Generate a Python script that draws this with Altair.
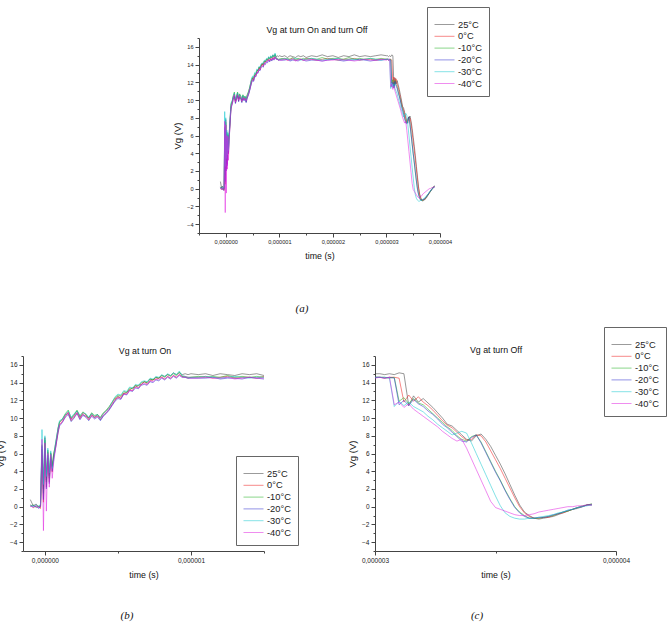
import altair as alt
import pandas as pd

W, H = 670, 635
FONT = "Liberation Sans"

SERIES = ["25°C", "0°C", "-10°C", "-20°C", "-30°C", "-40°C"]
COLORS = ["#3a3a3a", "#f01818", "#19b019", "#2a2ad0", "#10c8d0", "#e01ee0"]

# sample times in microseconds
ON_T = [-0.10, -0.08, -0.06, -0.04, -0.03, -0.02, -0.01, 0.00, 0.01, 0.02,
        0.03, 0.04, 0.05, 0.06, 0.07, 0.08, 0.09, 0.10, 0.12, 0.14,
        0.16, 0.18, 0.20, 0.22, 0.24, 0.26, 0.28, 0.30, 0.32, 0.34,
        0.36, 0.38, 0.40, 0.42, 0.44, 0.46, 0.48, 0.50, 0.52, 0.54,
        0.56, 0.58, 0.60, 0.62, 0.64, 0.66, 0.68, 0.70, 0.72, 0.74,
        0.76, 0.78, 0.80, 0.82, 0.84, 0.86, 0.88, 0.90, 0.92, 0.94,
        0.96, 0.98, 1.00]
PLATEAU_T = [1.05, 1.10, 1.15, 1.20, 1.25, 1.30, 1.35, 1.40, 1.45, 1.50,
             1.60, 1.70, 1.80, 1.90, 2.00, 2.10, 2.20, 2.30, 2.40, 2.50,
             2.60, 2.70, 2.80, 2.90, 3.00]
OFF_T = [3.02, 3.04, 3.06, 3.08, 3.10, 3.12, 3.14, 3.16, 3.18, 3.20,
         3.22, 3.24, 3.26, 3.28, 3.30, 3.32, 3.34, 3.36, 3.38, 3.40,
         3.42, 3.44, 3.46, 3.48, 3.50, 3.52, 3.54, 3.56, 3.58, 3.60,
         3.62, 3.64, 3.66, 3.68, 3.70, 3.72, 3.74, 3.76, 3.78, 3.80,
         3.82, 3.84, 3.86, 3.88, 3.90]

# gate voltage (V) at turn-on
ON_25 = [0.8, 0.1, 0.3, -0.1, 0.2, 6.5, 2.0, 7.8, 3.0, 5.5,
         3.5, 6.0, 4.5, 5.9, 6.8, 7.8, 8.9, 9.5, 9.8, 10.4,
         10.5, 9.9, 10.3, 10.8, 10.1, 10.4, 10.2, 10.0, 10.5, 10.0,
         10.4, 9.8, 10.3, 10.6, 11.0, 11.5, 12.0, 12.5, 12.2, 12.8,
         12.9, 13.2, 13.4, 13.5, 13.7, 13.8, 14.1, 14.0, 14.4, 14.3,
         14.6, 14.5, 14.8, 14.7, 14.9, 14.8, 15.1, 14.9, 15.1, 14.9,
         15.0, 14.9, 15.0]
ON_0 = [0.2, -0.1, 0.1, 0.0, -0.2, 5.8, 0.5, 7.2, 2.2, 6.2,
        2.8, 5.6, 3.9, 5.6, 6.4, 7.4, 8.4, 9.3, 9.6, 10.2,
        10.7, 9.7, 10.1, 10.6, 9.9, 10.6, 10.4, 9.8, 10.3, 10.2,
        10.2, 10.0, 10.5, 10.8, 11.2, 11.7, 12.2, 12.3, 12.4, 12.8,
        12.7, 13.2, 13.1, 13.7, 13.4, 13.8, 14.1, 13.8, 14.2, 14.3,
        14.4, 14.5, 14.6, 14.4, 14.7, 14.5, 14.8, 14.6, 14.9, 14.7,
        14.7, 14.6, 14.6]
ON_M10 = [0.1, 0.2, -0.1, 0.1, 0.0, 7.0, 1.5, 7.5, 2.8, 6.4,
          3.2, 6.1, 4.6, 6.0, 6.7, 7.7, 8.7, 9.6, 9.9, 10.5,
          10.9, 10.0, 10.4, 10.9, 10.2, 10.7, 10.4, 10.0, 10.6, 10.3,
          10.4, 10.1, 10.6, 10.9, 11.3, 11.8, 12.3, 12.6, 12.5, 13.0,
          12.9, 13.4, 13.3, 13.7, 13.6, 14.0, 14.1, 14.0, 14.4, 14.3,
          14.6, 14.5, 14.8, 14.6, 14.9, 14.7, 15.0, 14.8, 15.2, 14.7,
          14.6, 14.5, 14.6]
ON_M20 = [0.0, 0.1, 0.0, -0.2, 0.1, 6.8, 0.8, 6.6, 2.0, 5.8,
          2.6, 5.4, 4.0, 5.5, 6.3, 7.3, 8.3, 9.1, 9.5, 10.1,
          10.4, 9.6, 10.0, 10.5, 9.8, 10.3, 10.1, 9.7, 10.2, 9.9,
          10.1, 9.7, 10.2, 10.5, 10.9, 11.4, 11.9, 12.2, 12.1, 12.7,
          12.6, 13.1, 13.0, 13.4, 13.3, 13.7, 13.8, 13.7, 14.1, 14.0,
          14.3, 14.2, 14.5, 14.3, 14.6, 14.4, 14.7, 14.5, 14.8, 14.6,
          14.6, 14.5, 14.5]
ON_M30 = [0.2, 0.0, 0.2, 0.0, 0.3, 8.7, 2.5, 8.0, 3.4, 6.6,
          3.8, 6.3, 4.3, 5.2, 6.9, 7.9, 8.8, 9.7, 9.9, 10.4,
          10.8, 10.1, 10.5, 10.8, 10.3, 10.6, 10.5, 10.1, 10.5, 10.2,
          10.4, 10.0, 10.5, 10.8, 11.2, 11.8, 12.4, 12.7, 12.6, 13.1,
          13.0, 13.5, 13.4, 13.8, 13.7, 14.1, 14.2, 14.1, 14.5, 14.4,
          14.7, 14.6, 14.9, 14.7, 15.0, 14.8, 15.1, 14.9, 15.3, 14.8,
          14.7, 14.6, 14.6]
ON_M40 = [0.1, -0.1, 0.1, -0.1, 0.0, 7.6, -2.7, 7.2, -0.5, 6.0,
          2.2, 5.9, 3.2, 5.0, 6.2, 7.5, 8.5, 9.2, 9.6, 10.2,
          10.6, 9.8, 10.2, 10.6, 10.0, 10.4, 10.2, 9.9, 10.3, 10.0,
          10.2, 9.9, 10.3, 10.6, 11.0, 11.5, 12.0, 12.3, 12.2, 12.7,
          12.7, 13.1, 13.1, 13.5, 13.4, 13.8, 13.9, 13.8, 14.2, 14.1,
          14.4, 14.3, 14.6, 14.4, 14.7, 14.5, 14.8, 14.6, 14.9, 14.6,
          14.6, 14.5, 14.5]

# gate voltage (V) while fully on
PL_25 = [14.9, 15.0, 14.8, 15.0, 14.9, 14.8, 15.0, 14.9, 15.0, 14.8,
         15.0, 14.9, 15.1, 14.9, 15.0, 14.8, 15.0, 14.9, 15.1, 14.9,
         15.0, 14.9, 15.0, 15.1, 15.0]
PL_0 = [14.6, 14.7, 14.5, 14.6, 14.7, 14.5, 14.6, 14.6, 14.5, 14.7,
        14.6, 14.5, 14.6, 14.7, 14.6, 14.5, 14.6, 14.6, 14.7, 14.5,
        14.6, 14.6, 14.5, 14.6, 14.6]
PL_M10 = [14.7, 14.6, 14.7, 14.6, 14.8, 14.6, 14.7, 14.6, 14.7, 14.6,
          14.7, 14.6, 14.8, 14.6, 14.7, 14.7, 14.6, 14.8, 14.6, 14.7,
          14.6, 14.7, 14.6, 14.7, 14.6]
PL_M20 = [14.5, 14.5, 14.6, 14.4, 14.5, 14.5, 14.4, 14.6, 14.5, 14.4,
          14.5, 14.5, 14.4, 14.5, 14.6, 14.5, 14.4, 14.5, 14.5, 14.6,
          14.5, 14.4, 14.5, 14.5, 14.6]
PL_M30 = [14.6, 14.7, 14.6, 14.5, 14.6, 14.7, 14.6, 14.5, 14.6, 14.6,
          14.7, 14.6, 14.5, 14.6, 14.6, 14.7, 14.5, 14.6, 14.6, 14.5,
          14.6, 14.7, 14.6, 14.5, 14.6]
PL_M40 = [14.5, 14.6, 14.5, 14.5, 14.6, 14.4, 14.5, 14.6, 14.5, 14.5,
          14.6, 14.5, 14.4, 14.5, 14.5, 14.6, 14.5, 14.5, 14.4, 14.5,
          14.6, 14.5, 14.5, 14.6, 14.5]

# gate voltage (V) at turn-off
OFF_25 = [15.0, 14.9, 15.0, 14.9, 15.1, 15.0, 11.4, 12.5, 11.8, 12.2,
          11.7, 11.2, 10.6, 10.0, 9.3, 9.1, 8.6, 8.1, 7.6, 7.4,
          8.0, 8.2, 7.6, 6.8, 5.8, 4.8, 3.7, 2.5, 1.3, 0.2,
          -0.6, -1.0, -1.3, -1.4, -1.3, -1.2, -1.1, -0.9, -0.7, -0.5,
          -0.3, -0.2, 0.0, 0.2, 0.3]
OFF_0 = [14.6, 14.5, 14.6, 14.6, 14.5, 11.8, 12.6, 11.9, 12.4, 11.8,
         11.4, 10.9, 10.3, 9.7, 9.2, 8.9, 8.4, 7.9, 7.5, 7.6,
         8.1, 8.0, 7.3, 6.3, 5.3, 4.3, 3.2, 2.1, 1.0, 0.0,
         -0.7, -1.1, -1.3, -1.3, -1.2, -1.2, -1.0, -0.8, -0.7, -0.5,
         -0.3, -0.1, 0.0, 0.2, 0.2]
OFF_M10 = [14.6, 14.6, 14.5, 14.6, 11.9, 12.3, 11.6, 12.2, 11.7, 11.5,
           11.0, 10.5, 10.0, 9.5, 9.0, 8.6, 8.0, 7.6, 7.4, 7.9,
           8.1, 7.3, 6.2, 5.1, 4.0, 3.0, 1.9, 0.9, 0.0, -0.6,
           -1.0, -1.3, -1.3, -1.3, -1.2, -1.1, -1.0, -0.8, -0.6, -0.5,
           -0.3, -0.1, 0.1, 0.2, 0.3]
OFF_M20 = [14.6, 14.5, 14.6, 14.5, 11.5, 12.0, 11.4, 12.1, 11.6, 11.3,
           10.8, 10.4, 9.9, 9.3, 8.9, 8.4, 7.9, 7.4, 7.3, 7.8,
           8.1, 7.2, 6.1, 5.0, 3.9, 2.9, 1.8, 0.8, -0.1, -0.7,
           -1.1, -1.3, -1.3, -1.2, -1.2, -1.1, -0.9, -0.8, -0.6, -0.4,
           -0.3, -0.1, 0.0, 0.2, 0.2]
OFF_M30 = [14.6, 14.6, 14.5, 11.3, 11.9, 11.4, 11.8, 11.3, 11.0, 10.7,
           10.2, 9.8, 9.3, 8.9, 8.5, 8.1, 8.3, 8.5, 8.3, 7.2,
           6.0, 4.8, 3.6, 2.4, 1.2, 0.1, -0.7, -1.1, -1.3, -1.4,
           -1.4, -1.3, -1.3, -1.2, -1.1, -1.0, -0.9, -0.7, -0.6, -0.4,
           -0.3, -0.1, 0.0, 0.1, 0.2]
OFF_M40 = [14.6, 14.5, 14.6, 11.5, 11.8, 11.2, 11.6, 11.0, 10.6, 10.2,
           9.8, 9.4, 9.0, 8.5, 8.1, 7.7, 7.4, 7.6, 6.6, 5.4,
           4.2, 3.0, 1.8, 0.6, -0.1, -0.3, -0.5, -0.7, -0.9, -1.0,
           -1.0, -0.9, -0.8, -0.6, -0.5, -0.4, -0.3, -0.2, -0.1, 0.0,
           0.0, 0.1, 0.1, 0.2, 0.2]

ON = [ON_25, ON_0, ON_M10, ON_M20, ON_M30, ON_M40]
PL = [PL_25, PL_0, PL_M10, PL_M20, PL_M30, PL_M40]
OFF = [OFF_25, OFF_0, OFF_M10, OFF_M20, OFF_M30, OFF_M40]

times = ON_T + PLATEAU_T + OFF_T
rows = []
for name, on, pl, off in zip(SERIES, ON, PL, OFF):
    for t, v in zip(times, on + pl + off):
        rows.append({"series": name, "time": t, "vg": v})
df = pd.DataFrame(rows)

Y_TICKS = list(range(-5, 18))
TICK_SIZE = {"condition": {"test": "datum.value % 1 == 0", "value": 4}, "value": 2}
Y_TICK_SIZE = {"condition": {"test": "datum.value % 2 == 0", "value": 4}, "value": 2}
X_LABELS = ("datum.value % 1 == 0 ? "
            "replace(format(datum.value / 1000000, '.6f'), '.', ',') : ''")

# legend swatch: a short horizontal stroke starting at the entry's left edge
SWATCH = "M-1,0H3"


def panel(data, x_dom, x_px, y_px, x_ticks, legend_xy, label_size):
    x0, x1 = x_px
    ybot, ytop = y_px
    lx, ly = legend_xy
    return alt.Chart(data).mark_line(strokeWidth=0.7, opacity=0.75).encode(
        x=alt.X(
            "time:Q",
            scale=alt.Scale(domain=x_dom, range=[x0, x1], nice=False, zero=False),
            axis=alt.Axis(
                orient="bottom", offset=-(H - ybot), values=x_ticks,
                labelExpr=X_LABELS, tickSize=TICK_SIZE, title="time (s)",
                labelFontSize=label_size, titleFontSize=8.8, titlePadding=7,
                labelPadding=2, labelFlush=False, labelOverlap=False, grid=False,
            ),
        ),
        y=alt.Y(
            "vg:Q",
            scale=alt.Scale(domain=[-5, 17], range=[ybot, ytop], nice=False, zero=False),
            axis=alt.Axis(
                orient="left", offset=-x0, values=Y_TICKS,
                labelExpr="datum.value % 2 == 0 ? datum.label : ''",
                tickSize=Y_TICK_SIZE, title="Vg (V)",
                labelFontSize=label_size, titleFontSize=9.5, titlePadding=4,
                labelPadding=2, labelOverlap=False, grid=False,
            ),
        ),
        color=alt.Color(
            "series:N",
            scale=alt.Scale(domain=SERIES, range=COLORS),
            legend=alt.Legend(
                orient="none", legendX=lx, legendY=ly, title=" ",
                titleFontSize=5, titlePadding=0,
                symbolType=SWATCH, symbolSize=100, symbolStrokeWidth=1,
                symbolOpacity=0.5, labelFontSize=9.3, labelFont=FONT,
                labelColor="#222", labelOffset=13, rowPadding=0.8, padding=7,
                strokeColor="#666", fillColor="white",
            ),
        ),
    )


full = panel(df, [-0.5, 4.0], (199, 440), (233, 38),
             [-0.5, 0, 0.5, 1, 1.5, 2, 2.5, 3, 3.5, 4], (427, 7), 5.6)
turn_on = panel(df[df.time <= 1.5], [-0.15, 1.5], (23, 264), (551, 356),
                [0, 0.5, 1, 1.5], (236, 456), 6.5)
turn_off = panel(df[df.time >= 3.0], [3.0, 4.0], (375, 616), (551, 356),
                 [3, 3.5, 4], (604, 327), 6.5)

ONE = pd.DataFrame({"k": [0]})


def text(s, x, y, size, font=FONT, style="normal"):
    return alt.Chart(ONE).mark_text(
        text=s, fontSize=size, font=font, fontStyle=style, color="#111",
        align="center", baseline="middle",
    ).encode(x=alt.value(x), y=alt.value(y))


texts = [
    text("Vg at turn On and turn Off", 317, 30, 8.8),
    text("Vg at turn On", 145, 351, 8.8),
    text("Vg at turn Off", 496, 350, 8.8),
    text("(a)", 302, 309, 11, "Liberation Serif", "italic"),
    text("(b)", 127, 616, 11, "Liberation Serif", "italic"),
    text("(c)", 477, 616, 11, "Liberation Serif", "italic"),
]

chart = alt.layer(full, turn_on, turn_off, *texts).resolve_scale(
    x="independent", y="independent", color="independent"
).resolve_axis(
    x="independent", y="independent"
).resolve_legend(
    color="independent"
).properties(
    width=W, height=H, padding=0, autosize=alt.AutoSizeParams(type="none"),
    background="white",
).configure_view(
    stroke=None
).configure_axis(
    labelFont=FONT, titleFont=FONT, titleFontWeight="normal",
    labelColor="#222", titleColor="#111", domainColor="#444",
    tickColor="#444", domainWidth=1, tickWidth=1,
)

chart.save("out.html", embed_options={"renderer": "svg", "actions": False})
